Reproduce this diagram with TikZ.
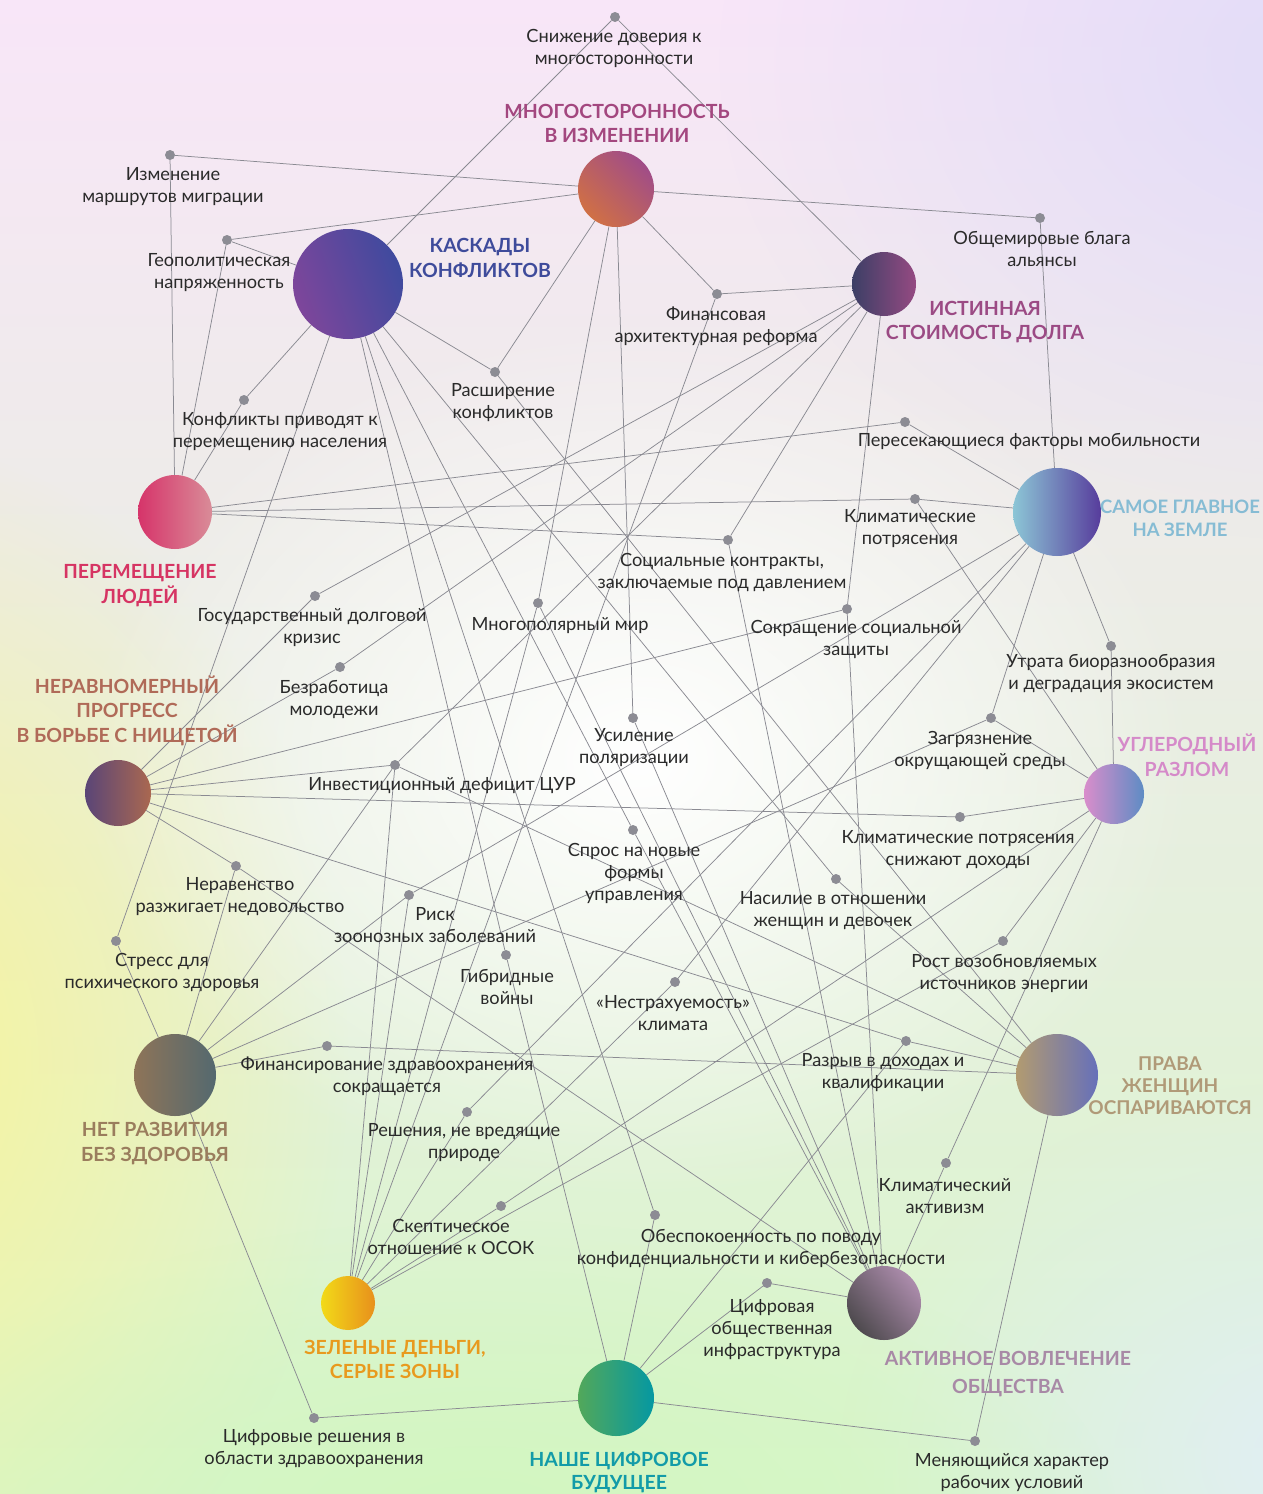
\documentclass[tikz,border=0pt]{standalone}
\usepackage{fontspec}
\setmainfont{Lato}
\usetikzlibrary{fadings}
\tikzfading[name=fadeout, inner color=transparent!0, outer color=transparent!100]
\pgfdeclarelayer{back}
\pgfdeclarelayer{edges}
\pgfsetlayers{back,edges,main}
\definecolor{edgec}{HTML}{8A8A92}
\definecolor{dotc}{HTML}{8C8C94}
\definecolor{txt}{HTML}{2A2A2A}
\definecolor{bgtop}{HTML}{F8E6F8}
\definecolor{bgbot}{HTML}{D9F6CB}
\definecolor{bgyel}{HTML}{F8F49A}
\definecolor{bglav}{HTML}{E2DCF8}
\definecolor{bgblu}{HTML}{E2EEF6}
\definecolor{bggrn}{HTML}{D2F6C0}
\definecolor{cM}{HTML}{A3477F}
\definecolor{cK}{HTML}{3E4B9B}
\definecolor{cI}{HTML}{9B4A84}
\definecolor{cP}{HTML}{D63463}
\definecolor{cS}{HTML}{86BCD4}
\definecolor{cN}{HTML}{B06A58}
\definecolor{cU}{HTML}{D58AC9}
\definecolor{cH}{HTML}{9A7D5D}
\definecolor{cW}{HTML}{B09A78}
\definecolor{cG}{HTML}{E89A1E}
\definecolor{cA}{HTML}{A889A6}
\definecolor{cC}{HTML}{129BA8}
% hub gradient colours
\definecolor{mA}{HTML}{D07045}\definecolor{mB}{HTML}{A04C88}
\definecolor{kA}{HTML}{7E469B}\definecolor{kB}{HTML}{3F4A9E}
\definecolor{iA}{HTML}{3C3F66}\definecolor{iB}{HTML}{954A82}
\definecolor{pA}{HTML}{D6346A}\definecolor{pB}{HTML}{D98C98}
\definecolor{sA}{HTML}{8CC6D6}\definecolor{sB}{HTML}{573C9C}
\definecolor{nA}{HTML}{5A4577}\definecolor{nB}{HTML}{AA6850}
\definecolor{uA}{HTML}{D98DCB}\definecolor{uB}{HTML}{5E8CC4}
\definecolor{hA}{HTML}{8E7458}\definecolor{hB}{HTML}{54696F}
\definecolor{wA}{HTML}{B29B70}\definecolor{wB}{HTML}{6670BA}
\definecolor{gA}{HTML}{F2DA18}\definecolor{gB}{HTML}{E8901C}
\definecolor{aA}{HTML}{4E4A4E}\definecolor{aB}{HTML}{AC8CAC}
\definecolor{zA}{HTML}{52A85A}\definecolor{zB}{HTML}{0598A2}
\tikzset{
  edge/.style={draw=edgec, line width=0.75pt},
  dotn/.style={circle, fill=dotc, inner sep=0pt, minimum size=10pt},
  lab/.style={text=txt, align=center, inner sep=0pt, font=\fontsize{18.2}{22}\selectfont},
  hublab/.style={align=center, inner sep=0pt, font=\bfseries\fontsize{19.5}{24.5}\selectfont},
  hub/.style={circle, inner sep=0pt, minimum size=#1},
}
\begin{document}
\begin{tikzpicture}[x=1pt,y=-1pt]
\useasboundingbox (0,0) rectangle (1263,1494);
% background
\begin{pgfonlayer}{back}
\shade[top color=bgtop, middle color=white, bottom color=bgbot] (0,0) rectangle (1263,1494);
\fill[bgyel, path fading=fadeout] (-120,1060) ellipse (470 and 620);
\fill[bglav, path fading=fadeout] (1320,60) ellipse (600 and 480);
\fill[bgblu, path fading=fadeout] (1320,1460) ellipse (480 and 380);
\fill[bggrn, path fading=fadeout] (480,1520) ellipse (640 and 300);
\fill[white, path fading=fadeout] (640,760) ellipse (560 and 440);
\end{pgfonlayer}
% hubs
\node[hub=76pt, left color=mA, right color=mB, shading angle=135] (M) at (616,189) {};
\node[hub=110pt, left color=kA, right color=kB, shading angle=110] (K) at (348,284) {};
\node[hub=64pt, left color=iA, right color=iB] (I) at (884,284) {};
\node[hub=74pt, left color=pA, right color=pB] (P) at (175,512) {};
\node[hub=88pt, left color=sA, right color=sB] (S) at (1057,512) {};
\node[hub=66pt, left color=nA, right color=nB] (N) at (118,793) {};
\node[hub=60pt, left color=uA, right color=uB] (U) at (1114,794) {};
\node[hub=82pt, left color=hA, right color=hB] (H) at (175,1075) {};
\node[hub=82pt, left color=wA, right color=wB] (W) at (1057,1075) {};
\node[hub=54pt, left color=gA, right color=gB] (G) at (348,1303) {};
\node[hub=74pt, left color=aA, right color=aB, shading angle=130] (A) at (884,1303) {};
\node[hub=76pt, left color=zA, right color=zB] (C) at (616,1398) {};
% hub labels
\node[hublab, text=cM] (tM) at (617,123.5) {МНОГОСТОРОННОСТЬ\\В ИЗМЕНЕНИИ};
\node[hublab, text=cK] (tK) at (480,258) {КАСКАДЫ\\КОНФЛИКТОВ};
\node[hublab, text=cI] (tI) at (985,322) {ИСТИННАЯ\\СТОИМОСТЬ ДОЛГА};
\node[hublab, text=cP] (tP) at (140,585.5) {ПЕРЕМЕЩЕНИЕ\\ЛЮДЕЙ};
\node[hublab, text=cS, font=\bfseries\fontsize{18.5}{23}\selectfont] (tS) at (1180,518) {САМОЕ ГЛАВНОЕ\\НА ЗЕМЛЕ};
\node[hublab, text=cN] (tN) at (127,710.5) {НЕРАВНОМЕРНЫЙ\\ПРОГРЕСС\\В БОРЬБЕ С НИЩЕТОЙ};
\node[hublab, text=cU] (tU) at (1187,755) {УГЛЕРОДНЫЙ\\РАЗЛОМ};
\node[hublab, text=cH] (tH) at (155,1143.5) {НЕТ РАЗВИТИЯ\\БЕЗ ЗДОРОВЬЯ};
\node[hublab, text=cW, font=\bfseries\fontsize{19}{22}\selectfont] (tW) at (1170,1086) {ПРАВА\\ЖЕНЩИН\\ОСПАРИВАЮТСЯ};
\node[hublab, text=cG] (tG) at (395,1359.5) {ЗЕЛЕНЫЕ ДЕНЬГИ,\\СЕРЫЕ ЗОНЫ};
\node[hublab, text=cA, font=\bfseries\fontsize{19.5}{28}\selectfont] (tA) at (1008,1374) {АКТИВНОЕ ВОВЛЕЧЕНИЕ\\ОБЩЕСТВА};
\node[hublab, text=cC, font=\bfseries\fontsize{19.5}{23}\selectfont] (tC) at (619,1472.5) {НАШЕ ЦИФРОВОЕ\\БУДУЩЕЕ};
% dots
\node[dotn] (d1) at (615,17) {};
\node[dotn] (d2) at (170,155) {};
\node[dotn] (d3) at (227,240) {};
\node[dotn] (d4) at (1040,218) {};
\node[dotn] (d5) at (717,294) {};
\node[dotn] (d6) at (244,400) {};
\node[dotn] (d7) at (495,372) {};
\node[dotn] (d8) at (905,422) {};
\node[dotn] (d9) at (915,499) {};
\node[dotn] (d10) at (728,540) {};
\node[dotn] (d11) at (315,596) {};
\node[dotn] (d12) at (538,603) {};
\node[dotn] (d13) at (847,609) {};
\node[dotn] (d14) at (340,667) {};
\node[dotn] (d15) at (633,718) {};
\node[dotn] (d16) at (633,830) {};
\node[dotn] (d17) at (395,765) {};
\node[dotn] (d18) at (236,866) {};
\node[dotn] (d19) at (116,941) {};
\node[dotn] (d20) at (409,895) {};
\node[dotn] (d21) at (506,955) {};
\node[dotn] (d22) at (675,982) {};
\node[dotn] (d23) at (836,879) {};
\node[dotn] (d24) at (960,817) {};
\node[dotn] (d25) at (1003,941) {};
\node[dotn] (d26) at (906,1041) {};
\node[dotn] (d27) at (327,1046) {};
\node[dotn] (d28) at (467,1112) {};
\node[dotn] (d29) at (501,1206) {};
\node[dotn] (d30) at (946,1163) {};
\node[dotn] (d31) at (655,1215) {};
\node[dotn] (d32) at (767,1283) {};
\node[dotn] (d33) at (314,1418) {};
\node[dotn] (d34) at (975,1441) {};
\node[dotn] (d35) at (1111,646) {};
\node[dotn] (d36) at (991,718) {};
% dot labels
\node[lab] (l1) at (614,48) {Снижение доверия к\\многосторонности};
\node[lab] (l2) at (173,186.5) {Изменение\\маршрутов миграции};
\node[lab] (l3) at (219,273) {Геополитическая\\напряженность};
\node[lab] (l4) at (1042,249) {Общемировые блага\\альянсы};
\node[lab] (l5) at (716,326) {Финансовая\\архитектурная реформа};
\node[lab] (l6) at (280,432) {Конфликты приводят к\\перемещению населения};
\node[lab] (l7) at (503,403) {Расширение\\конфликтов};
\node[lab] (l8) at (1029,442) {Пересекающиеся факторы мобильности};
\node[lab] (l9) at (910,529) {Климатические\\потрясения};
\node[lab] (l10) at (722,572) {Социальные контракты,\\заключаемые под давлением};
\node[lab] (l11) at (312,628) {Государственный долговой\\кризис};
\node[lab] (l12) at (560,626) {Многополярный мир};
\node[lab] (l13) at (856,639) {Сокращение социальной\\защиты};
\node[lab] (l14) at (334,699.5) {Безработица\\молодежи};
\node[lab] (l15) at (634,748) {Усиление\\поляризации};
\node[lab] (l16) at (634,873) {Спрос на новые\\формы\\управления};
\node[lab] (l17) at (442,786) {Инвестиционный дефицит ЦУР};
\node[lab] (l18) at (240,897) {Неравенство\\разжигает недовольство};
\node[lab] (l19) at (162,972) {Стресс для\\психического здоровья};
\node[lab] (l20) at (435,925) {Риск\\зоонозных заболеваний};
\node[lab] (l21) at (507,987) {Гибридные\\войны};
\node[lab] (l22) at (673,1013) {«Нестрахуемость»\\климата};
\node[lab] (l23) at (833,911) {Насилие в отношении\\женщин и девочек};
\node[lab] (l24) at (958,850) {Климатические потрясения\\снижают доходы};
\node[lab] (l25) at (1004,973) {Рост возобновляемых\\источников энергии};
\node[lab] (l26) at (883,1073) {Разрыв в доходах и\\квалификации};
\node[lab] (l27) at (387,1076) {Финансирование здравоохранения\\сокращается};
\node[lab] (l28) at (464,1143) {Решения, не вредящие\\природе};
\node[lab] (l29) at (451,1237) {Скептическое\\отношение к ОСОК};
\node[lab] (l30) at (945,1196) {Климатический\\активизм};
\node[lab] (l31) at (761,1248) {Обеспокоенность по поводу\\конфиденциальности и кибербезопасности};
\node[lab] (l32) at (772,1330) {Цифровая\\общественная\\инфраструктура};
\node[lab] (l33) at (314,1449) {Цифровые решения в\\области здравоохранения};
\node[lab] (l34) at (1012,1473) {Меняющийся характер\\рабочих условий};
\node[lab] (l35) at (1111,674) {Утрата биоразнообразия\\и деградация экосистем};
\node[lab] (l36) at (980,750) {Загрязнение\\окрущающей среды};
% connectors
\begin{pgfonlayer}{edges}
\foreach \h/\d in {M/d2,M/d3,M/d4,M/d5,M/d7,M/d12,M/d15,
  K/d1,K/d3,K/d6,K/d7,K/d16,K/d19,K/d21,K/d23,K/d31,
  I/d1,I/d5,I/d10,I/d11,I/d13,I/d14,I/d17,
  P/d2,P/d3,P/d6,P/d8,P/d9,P/d10,
  S/d4,S/d8,S/d9,S/d20,S/d22,S/d28,S/d35,S/d36,
  N/d11,N/d13,N/d14,N/d17,N/d18,N/d24,N/d26,
  U/d9,U/d24,U/d25,U/d29,U/d30,U/d35,U/d36,
  H/d17,H/d18,H/d19,H/d20,H/d27,H/d33,H/d36,
  W/d7,W/d17,W/d23,W/d26,W/d27,W/d34,
  G/d5,G/d12,G/d17,G/d20,G/d22,G/d25,G/d28,G/d29,
  A/d10,A/d12,A/d13,A/d15,A/d16,A/d18,A/d30,A/d32,
  C/d21,C/d26,C/d31,C/d32,C/d33,C/d34}
  \draw[edge] (\h) -- (\d);
\end{pgfonlayer}
\end{tikzpicture}
\end{document}
